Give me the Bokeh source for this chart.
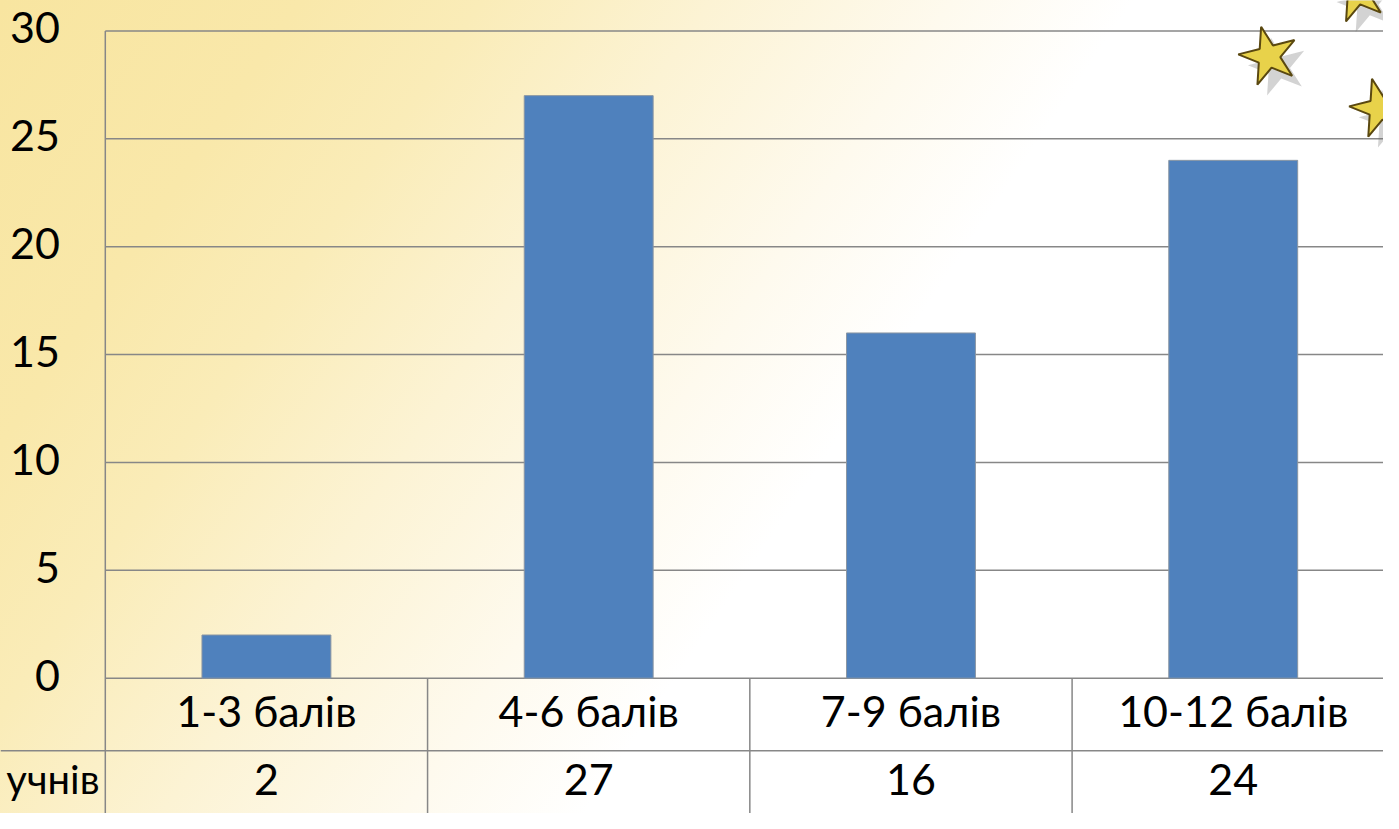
from bokeh.plotting import figure
from bokeh.models import Range1d
from bokeh.core.properties import value
from bokeh.embed import file_html
from bokeh.resources import INLINE

# ---- data ----
categories = ["1-3 балів", "4-6 балів", "7-9 балів", "10-12 балів"]
students = [2, 27, 16, 24]
y_ticks = [0, 5, 10, 15, 20, 25, 30]
y_tick_labels = ["0", "5", "10", "15", "20", "25", "30"]
row_label = "учнів"

# decorative stars (data coordinates)
star_x = [3.610, 3.954, 3.885]
star_y = [28.82, 26.41, 31.75]

FONT = "Lato"
FS = "43px"
GRID = "#878787"
BAR = "#4F81BD"

n = len(categories)
x_pos = [i + 0.5 for i in range(n)]
value_text = [str(v) for v in students]

X0, X1 = -0.3252, 3.9663
Y0, Y1 = -6.273, 31.409

p = figure(width=1383, height=813, output_backend="svg", toolbar_location=None,
           title=None, x_range=Range1d(X0, X1), y_range=Range1d(Y0, Y1),
           x_axis_location=None, y_axis_location=None,
           min_border=0, min_border_left=0, min_border_right=0,
           min_border_top=0, min_border_bottom=0)

p.border_fill_color = None
p.background_fill_color = None
p.outline_line_color = None
p.xgrid.visible = False
p.ygrid.visible = False
p.styles = {"background-image":
            "linear-gradient(124deg, #F8E5A0 0px, #F9E8AA 250px, #FAECB8 400px, "
            "#FCF3D4 590px, #FEFAEE 790px, #FFFFFF 940px, #FFFFFF 100%)"}

TXT = dict(text_font=value(FONT), text_color="#000000", text_baseline="middle",
           y_offset=-3)

# horizontal gridlines (value axis)
p.segment(x0=[0] * len(y_ticks), y0=y_ticks, x1=[X1] * len(y_ticks), y1=y_ticks,
          line_color=GRID, line_width=1.5)
# value axis line (runs down through the data table)
p.segment(x0=[0], y0=[max(y_ticks)], x1=[0], y1=[Y0], line_color=GRID, line_width=1.5)
# value-axis tick labels
p.text(x=[-0.1411] * len(y_ticks), y=y_ticks, text=y_tick_labels, text_align="right",
       text_font_size=FS, **TXT)

# stars with shadow
p.scatter([x + 0.03 for x in star_x], [y - 0.5 for y in star_y], marker="star",
          size=61, angle=0.25, fill_color="#6E6E6E", fill_alpha=0.3, line_color=None)
p.scatter(star_x, star_y, marker="star", size=61, angle=0.25,
          fill_color="#E8D24A", line_color="#5A4810", line_width=2)

# bars
p.vbar(x=x_pos, top=students, bottom=0, width=0.4, fill_color=BAR,
       line_color="#8A96A3", line_width=1)

# data table under the chart
ROW_SPLIT = -3.364
p.segment(x0=[X0], y0=[ROW_SPLIT], x1=[X1], y1=[ROW_SPLIT],
          line_color=GRID, line_width=1.5)
p.segment(x0=list(range(1, n)), y0=[0] * (n - 1), x1=list(range(1, n)),
          y1=[Y0] * (n - 1), line_color=GRID, line_width=1.5)

p.text(x=x_pos, y=[-1.636] * n, text=categories, text_align="center",
       text_font_size=FS, **TXT)
p.text(x=x_pos, y=[-4.818] * n, text=value_text, text_align="center",
       text_font_size=FS, **TXT)
p.text(x=[-0.018], y=[-4.818], text=[row_label], text_align="right",
       text_font_size="40px", **TXT)

open("out.html", "w").write(file_html(p, INLINE))
